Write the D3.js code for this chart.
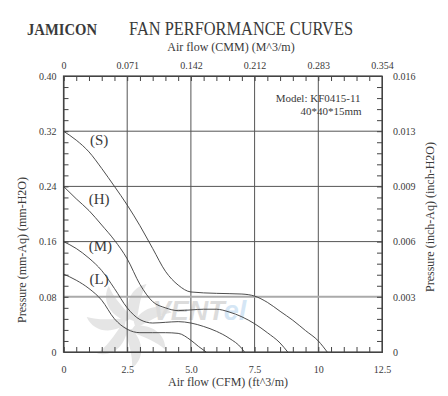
<!DOCTYPE html>
<html>
<head>
<meta charset="utf-8">
<script src="https://cdn.jsdelivr.net/npm/d3@7"></script>
<style>
  body { margin: 0; background: #fff; }
  svg text { font-family: "Liberation Serif", "DejaVu Serif", serif; fill: #3a3a3a; }
  .axis path, .axis line { stroke: #444; }
</style>
</head>
<body>
<script>
// airflow (CFM) vs pressure (mm-H2O)
var curveS = [[0,0.32],[0.5,0.307],[1,0.29],[1.5,0.266],[2,0.24],[2.5,0.213],[3,0.183],[3.5,0.15],[4,0.117],[4.5,0.097],[5,0.087],[6,0.085],[7,0.084],[7.5,0.081],[8,0.072],[8.5,0.059],[9,0.046],[9.5,0.031],[10,0.016],[10.35,0]];
var curveH = [[0,0.24],[0.5,0.222],[1,0.205],[1.5,0.184],[2,0.162],[2.5,0.135],[3,0.098],[3.5,0.073],[4,0.064],[4.5,0.060],[5,0.061],[5.5,0.062],[6,0.062],[6.5,0.058],[7,0.051],[7.5,0.041],[8,0.028],[8.5,0.013],[8.8,0]];
var curveM = [[0,0.16],[0.5,0.15],[1,0.136],[1.5,0.118],[2,0.092],[2.5,0.064],[3,0.047],[3.5,0.042],[4,0.043],[4.5,0.044],[5,0.042],[5.5,0.037],[6,0.030],[6.5,0.02],[7,0.005],[7.1,0]];
var curveL = [[0,0.113],[0.5,0.104],[1,0.092],[1.5,0.075],[2,0.048],[2.5,0.033],[3,0.028],[3.5,0.028],[4,0.028],[4.5,0.027],[5,0.017],[5.3,0.008],[5.6,0]];
var curveNames = ["(S)", "(H)", "(M)", "(L)"];

var cfmTicks = [0, 2.5, 5, 7.5, 10, 12.5];
var cfmLabels = ["0", "2.5", "5.0", "7.5", "10", "12.5"];
var cmmLabels = ["0", "0.071", "0.142", "0.212", "0.283", "0.354"];
var mmTicks = [0, 0.08, 0.16, 0.24, 0.32, 0.40];
var mmLabels = ["0", "0.08", "0.16", "0.24", "0.32", "0.40"];
var inchLabels = ["0", "0.003", "0.006", "0.009", "0.013", "0.016"];

var W = 448, H = 396;
var margin = {top: 76, right: 66, bottom: 44, left: 63.5},
    width = W - margin.left - margin.right,
    height = H - margin.top - margin.bottom;

var x = d3.scaleLinear().domain([0, 12.5]).range([0, width]);
var y = d3.scaleLinear().domain([0, 0.40]).range([height, 0]);

var svg = d3.select("body").append("svg")
    .attr("width", W)
    .attr("height", H);

// titles
svg.append("text").attr("x", 27).attr("y", 35)
    .attr("font-size", 17).attr("font-weight", "bold")
    .attr("textLength", 70).attr("lengthAdjust", "spacingAndGlyphs")
    .text("JAMICON");
svg.append("text").attr("x", 129).attr("y", 35)
    .attr("font-size", 18)
    .attr("textLength", 224).attr("lengthAdjust", "spacingAndGlyphs")
    .text("FAN PERFORMANCE CURVES");
svg.append("text").attr("x", 231).attr("y", 51)
    .attr("text-anchor", "middle").attr("font-size", 12)
    .text("Air flow  (CMM) (M^3/m)");

var g = svg.append("g")
    .attr("transform", "translate(" + margin.left + "," + margin.top + ")");

// watermark
var wm = g.append("g").attr("opacity", 0.25);
for (var i = 0; i < 7; i++) {
    wm.append("path")
        .attr("transform", "translate(" + x(2.6) + "," + y(0.04) + ") rotate(" + (i * 360 / 7) + ")")
        .attr("d", "M4,-3 C14,-18 30,-22 42,-12 C30,-10 20,-4 6,4 Z")
        .style("fill", "#999");
}
var wmText = wm.append("text").attr("x", x(3.5)).attr("y", y(0.047))
    .attr("font-size", 27).attr("font-weight", "bold").attr("font-style", "italic")
    .style("font-family", "Liberation Sans, sans-serif");
wmText.append("tspan").style("fill", "#777").text("VENT");
wmText.append("tspan").style("fill", "#5aa0d8").text("el");

// grid
g.append("g").selectAll("line")
    .data(cfmTicks.slice(1, -1))
    .join("line")
    .attr("x1", d => x(d)).attr("x2", d => x(d))
    .attr("y1", 0).attr("y2", height)
    .attr("stroke", "#555").attr("stroke-width", 1);
g.append("g").selectAll("line")
    .data(mmTicks.slice(1, -1))
    .join("line")
    .attr("x1", 0).attr("x2", width)
    .attr("y1", d => y(d)).attr("y2", d => y(d))
    .attr("stroke", d => d == 0.08 ? "#aaa" : "#555")
    .attr("stroke-width", d => d == 0.08 ? 2 : 1);

// minor ticks (inward)
var minorX = d3.range(0, 12.51, 0.5);
var minorY = d3.range(0, 0.401, 0.016);
g.append("g").attr("class", "axis").attr("transform", "translate(0," + height + ")")
    .call(d3.axisBottom(x).tickValues(minorX).tickSize(-5).tickFormat(""));
g.append("g").attr("class", "axis")
    .call(d3.axisTop(x).tickValues(minorX).tickSize(-5).tickFormat(""));
g.append("g").attr("class", "axis")
    .call(d3.axisLeft(y).tickValues(minorY).tickSize(-5).tickFormat(""));
g.append("g").attr("class", "axis").attr("transform", "translate(" + width + ",0)")
    .call(d3.axisRight(y).tickValues(minorY).tickSize(-5).tickFormat(""));

// labels
function labelAxis(sel) { sel.select(".domain").remove(); sel.selectAll("text").attr("font-size", 10).style("font-family", "Liberation Serif, serif").style("fill", "#3a3a3a"); }
g.append("g").attr("transform", "translate(0," + height + ")")
    .call(d3.axisBottom(x).tickValues(cfmTicks).tickSize(0).tickPadding(14)
        .tickFormat((d, i) => cfmLabels[i]))
    .call(labelAxis);
g.append("g")
    .call(d3.axisTop(x).tickValues(cfmTicks).tickSize(0).tickPadding(7)
        .tickFormat((d, i) => cmmLabels[i]))
    .call(labelAxis);
g.append("g")
    .call(d3.axisLeft(y).tickValues(mmTicks).tickSize(0).tickPadding(7)
        .tickFormat((d, i) => mmLabels[i]))
    .call(labelAxis);
g.append("g").attr("transform", "translate(" + width + ",0)")
    .call(d3.axisRight(y).tickValues(mmTicks).tickSize(0).tickPadding(11)
        .tickFormat((d, i) => inchLabels[i]))
    .call(labelAxis);

// frame
g.append("rect").attr("width", width).attr("height", height)
    .attr("fill", "none").attr("stroke", "#444").attr("stroke-width", 1.2);

// curves
var line = d3.line().x(d => x(d[0])).y(d => y(d[1])).curve(d3.curveMonotoneX);
g.append("g").selectAll("path")
    .data([curveS, curveH, curveM, curveL])
    .join("path")
    .attr("d", line)
    .attr("fill", "none").attr("stroke", "#3a3a3a").attr("stroke-width", 0.9);

// curve names
var namePos = [[1.4, 0.300], [1.4, 0.214], [1.45, 0.147], [1.4, 0.098]];
g.append("g").selectAll("text")
    .data(curveNames)
    .join("text")
    .attr("x", (d, i) => x(namePos[i][0]))
    .attr("y", (d, i) => y(namePos[i][1]))
    .attr("text-anchor", "middle").attr("font-size", 15)
    .text(d => d);

// model box text
g.append("text").attr("x", 297).attr("y", 26).attr("text-anchor", "end")
    .attr("font-size", 11).text("Model: KF0415-11");
g.append("text").attr("x", 298).attr("y", 39).attr("text-anchor", "end")
    .attr("font-size", 11).text("40*40*15mm");

// axis titles
svg.append("text").attr("x", 228).attr("y", 386)
    .attr("text-anchor", "middle").attr("font-size", 12)
    .text("Air flow  (CFM) (ft^3/m)");
svg.append("text").attr("transform", "translate(26,250) rotate(-90)")
    .attr("text-anchor", "middle").attr("font-size", 12)
    .text("Pressure (mm-Aq) (mm-H2O)");
svg.append("text").attr("transform", "translate(434,217) rotate(-90)")
    .attr("text-anchor", "middle").attr("font-size", 12)
    .text("Pressure (inch-Aq) (inch-H2O)");
</script>
</body>
</html>
